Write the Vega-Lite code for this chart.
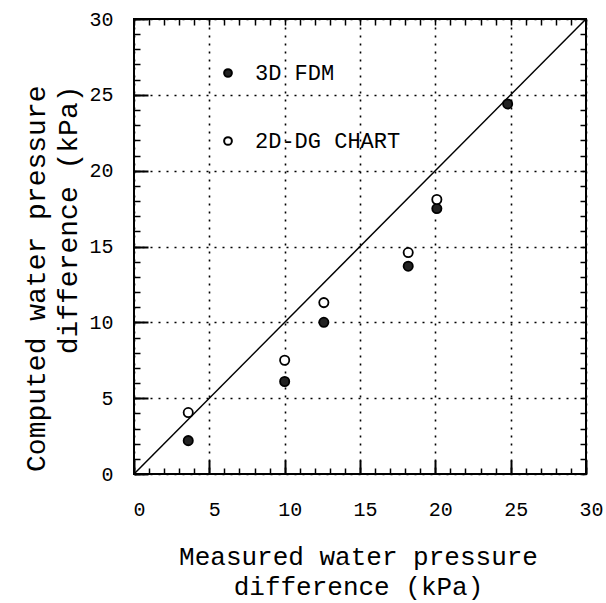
{
  "$schema": "https://vega.github.io/schema/vega-lite/v6.json",
  "autosize": {"type": "none"},
  "padding": {"left": 134, "top": 19, "right": 20, "bottom": 129},
  "width": 452,
  "height": 455,
  "background": "white",
  "config": {
    "view": {"stroke": "black", "strokeWidth": 2},
    "axis": {"labelColor": "black", "titleColor": "black", "domain": false, "labelFont": "Liberation Mono", "titleFont": "Liberation Mono", "titleFontWeight": "normal"}
  },
  "datasets": {
    "pts": [
      {"measured": 3.6, "computed": 2.2, "series": "3D FDM"},
      {"measured": 10.0, "computed": 6.1, "series": "3D FDM"},
      {"measured": 12.6, "computed": 10.0, "series": "3D FDM"},
      {"measured": 18.2, "computed": 13.7, "series": "3D FDM"},
      {"measured": 20.1, "computed": 17.5, "series": "3D FDM"},
      {"measured": 24.8, "computed": 24.4, "series": "3D FDM"},
      {"measured": 3.6, "computed": 4.05, "series": "2D-DG CHART"},
      {"measured": 10.0, "computed": 7.5, "series": "2D-DG CHART"},
      {"measured": 12.6, "computed": 11.3, "series": "2D-DG CHART"},
      {"measured": 18.2, "computed": 14.6, "series": "2D-DG CHART"},
      {"measured": 20.1, "computed": 18.1, "series": "2D-DG CHART"}
    ],
    "diag": [
      {"measured": 0, "computed": 0},
      {"measured": 30, "computed": 30}
    ]
  },
  "resolve": {"axis": {"x": "independent", "y": "independent"}},
  "layer": [
    {
      "data": {"name": "diag"},
      "mark": {"type": "line", "color": "black", "strokeWidth": 1.5},
      "encoding": {
        "x": {"field": "measured", "type": "quantitative", "scale": {"domain": [0, 30], "nice": false},
          "axis": {"orient": "bottom", "values": [0, 5, 10, 15, 20, 25, 30], "ticks": true, "tickSize": -14, "tickWidth": 2, "tickColor": "black",
            "grid": true, "gridColor": "black", "gridDash": [2, 6], "gridWidth": 1.6, "gridOpacity": 1,
            "labelFontSize": 20, "labelPadding": 39, "labelOffset": 5, "labelFlush": false,
            "title": ["Measured water pressure", "difference  (kPa)"], "titleFontSize": 26, "titleLineHeight": 30,
            "titleBaseline": "alphabetic", "titleY": 90, "titleX": 224, "titleAlign": "center", "titlePadding": 0}},
        "y": {"field": "computed", "type": "quantitative", "scale": {"domain": [0, 30], "nice": false},
          "axis": {"orient": "left", "values": [0, 5, 10, 15, 20, 25, 30], "ticks": true, "tickSize": -14, "tickWidth": 2, "tickColor": "black",
            "grid": true, "gridColor": "black", "gridDash": [2, 6], "gridWidth": 1.6, "gridOpacity": 1,
            "labelFontSize": 20, "labelPadding": 35, "labelFlush": false,
            "title": ["Computed water pressure", "difference  (kPa)"], "titleFontSize": 28, "titleLineHeight": 32,
            "titleAngle": -90, "titleAlign": "right", "titleBaseline": "alphabetic", "titleX": -90, "titleY": 66}}
      }
    },
    {
      "data": {"name": "pts"},
      "mark": {"type": "point", "shape": "circle", "filled": true, "size": 85, "stroke": "black", "strokeWidth": 1.8, "opacity": 1},
      "encoding": {
        "x": {"field": "measured", "type": "quantitative", "scale": {"domain": [0, 30], "nice": false},
          "axis": {"orient": "top", "values": [0,1,2,3,4,5,6,7,8,9,10,11,12,13,14,15,16,17,18,19,20,21,22,23,24,25,26,27,28,29,30], "ticks": true, "tickSize": 6, "offset": -6, "tickWidth": 1.5, "tickColor": "black", "labels": false, "grid": false, "title": null}},
        "y": {"field": "computed", "type": "quantitative", "scale": {"domain": [0, 30], "nice": false},
          "axis": {"orient": "right", "values": [0,1,2,3,4,5,6,7,8,9,10,11,12,13,14,15,16,17,18,19,20,21,22,23,24,25,26,27,28,29,30], "ticks": true, "tickSize": 6, "offset": -6, "tickWidth": 1.5, "tickColor": "black", "labels": false, "grid": false, "title": null}},
        "fill": {"field": "series", "type": "nominal",
          "scale": {"domain": ["3D FDM", "2D-DG CHART"], "range": ["#222222", "white"]},
          "legend": {"orient": "none", "legendX": 83, "legendY": 43, "title": null, "padding": 0,
            "labelFont": "Liberation Mono", "labelFontSize": 22, "labelColor": "black", "labelOffset": 16,
            "symbolType": "circle", "symbolSize": 60, "symbolStrokeColor": "black", "symbolStrokeWidth": 2,
            "rowPadding": 46, "labelLimit": 300}}
      }
    },
    {
      "data": {"name": "diag"},
      "mark": {"type": "point", "opacity": 0},
      "encoding": {
        "x": {"field": "measured", "type": "quantitative", "scale": {"domain": [0, 30], "nice": false},
          "axis": {"orient": "bottom", "values": [0,1,2,3,4,5,6,7,8,9,10,11,12,13,14,15,16,17,18,19,20,21,22,23,24,25,26,27,28,29,30], "ticks": true, "tickSize": 6, "offset": -6, "tickWidth": 1.5, "tickColor": "black", "labels": false, "grid": false, "title": null}},
        "y": {"field": "computed", "type": "quantitative", "scale": {"domain": [0, 30], "nice": false},
          "axis": {"orient": "left", "values": [0,1,2,3,4,5,6,7,8,9,10,11,12,13,14,15,16,17,18,19,20,21,22,23,24,25,26,27,28,29,30], "ticks": true, "tickSize": 6, "offset": -6, "tickWidth": 1.5, "tickColor": "black", "labels": false, "grid": false, "title": null}}
      }
    }
  ]
}
